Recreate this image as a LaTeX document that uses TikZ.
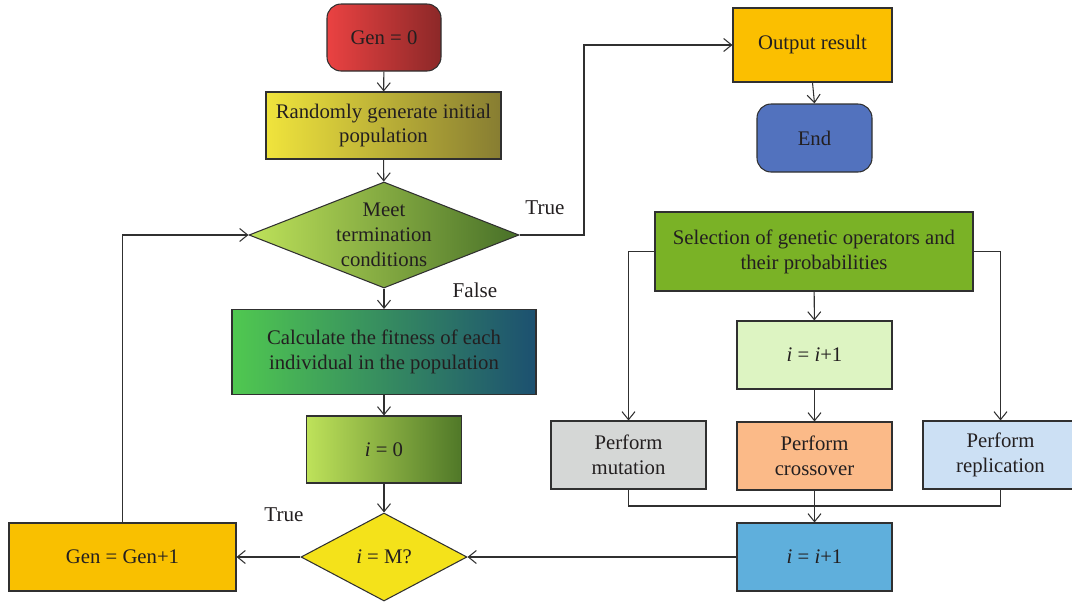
\documentclass[tikz,border=0pt]{standalone}
\usepackage{fontspec}
\setmainfont{Liberation Serif}
\usetikzlibrary{
  arrows.meta, % For arrow tips
  shapes.geometric % For the diamonds
}

\definecolor{txtgray}{HTML}{231F20}
\definecolor{linegray}{HTML}{303030}

\begin{document}
\begin{tikzpicture}[
      line width=0.6pt, % Default line thickness
      >={Straight Barb[length=1.6mm,width=2.6mm]}, % Default arrow tip
      every node/.style={font=\fontsize{11.8}{14.2}\selectfont, text=txtgray},
      block/.style={draw=linegray, rectangle, align=center, inner sep=2pt}, % Process boxes
      rblock/.style={block, rounded corners=8pt}, % Start / end boxes
      decision/.style={draw=linegray, diamond, align=center, inner sep=0pt, aspect=2.5}, % Tests
      flow/.style={->, draw=linegray}, % Connectors
      label/.style={font=\fontsize{12}{14}\selectfont},
    ]

    \useasboundingbox (0,0) rectangle (21.44,-12.12);

    % Linke Spalte: Hauptschleife
    \node[rblock, minimum width=2.28cm, minimum height=1.34cm,
      left color={rgb,255:red,234;green,66;blue,66}, middle color={rgb,255:red,228;green,60;blue,60},
      right color={rgb,255:red,140;green,40;blue,40}] (gen0) at (7.68,-0.75) {Gen = 0};
    \node[block, minimum width=4.7cm, minimum height=1.34cm,
      left color={rgb,255:red,240;green,228;blue,60}, middle color={rgb,255:red,238;green,226;blue,0},
      right color={rgb,255:red,135;green,125;blue,50}] (rand) at (7.67,-2.51) {Randomly generate initial\\population};
    \node[decision, minimum width=5.4cm, minimum height=2.12cm,
      left color={rgb,255:red,190;green,226;blue,90}, middle color={rgb,255:red,126;green,186;blue,30},
      right color={rgb,255:red,72;green,112;blue,40}] (meet) at (7.68,-4.70) {Meet\\termination\\conditions};
    \node[block, minimum width=6.08cm, minimum height=1.7cm,
      left color={rgb,255:red,80;green,200;blue,80}, middle color={rgb,255:red,64;green,192;blue,112},
      right color={rgb,255:red,28;green,80;blue,112}] (calc) at (7.68,-7.04) {Calculate the fitness of each\\individual in the population};
    \node[block, minimum width=3.1cm, minimum height=1.34cm,
      left color={rgb,255:red,190;green,226;blue,90}, middle color={rgb,255:red,130;green,190;blue,30},
      right color={rgb,255:red,80;green,120;blue,40}] (izero) at (7.68,-8.99) {\textit{i} = 0};
    \node[decision, minimum width=3.32cm, minimum height=1.76cm,
      fill={rgb,255:red,244;green,226;blue,26}] (itest) at (7.68,-11.14) {\textit{i} = M?};
    \node[block, minimum width=4.54cm, minimum height=1.36cm,
      fill={rgb,255:red,249;green,192;blue,0}] (genup) at (2.45,-11.14) {Gen = Gen+1};

    % Rechte Spalte: Ausgabe
    \node[block, minimum width=3.18cm, minimum height=1.48cm,
      fill={rgb,255:red,251;green,191;blue,0}] (out) at (16.25,-0.90) {Output result};
    \node[rblock, minimum width=2.3cm, minimum height=1.36cm,
      fill={rgb,255:red,82;green,114;blue,190}] (stop) at (16.29,-2.76) {End};

    % Rechte Spalte: genetische Operatoren
    \node[block, minimum width=6.36cm, minimum height=1.58cm,
      fill={rgb,255:red,122;green,178;blue,38}] (sel) at (16.28,-5.03) {Selection of genetic operators and\\their probabilities};
    \node[block, minimum width=3.1cm, minimum height=1.36cm,
      fill={rgb,255:red,221;green,244;blue,194}] (inc) at (16.29,-7.10) {\textit{i} = \textit{i}+1};
    \node[block, minimum width=3.1cm, minimum height=1.36cm,
      fill={rgb,255:red,213;green,215;blue,214}] (mut) at (12.57,-9.10) {Perform\\mutation};
    \node[block, minimum width=3.1cm, minimum height=1.36cm,
      fill={rgb,255:red,251;green,186;blue,136}] (cross) at (16.29,-9.12) {Perform\\crossover};
    \node[block, minimum width=3.1cm, minimum height=1.36cm,
      fill={rgb,255:red,204;green,224;blue,244}] (repl) at (20.01,-9.10) {Perform\\replication};
    \node[block, minimum width=3.1cm, minimum height=1.36cm,
      fill={rgb,255:red,95;green,175;blue,220}] (incb) at (16.29,-11.14) {\textit{i} = \textit{i}+1};

    % Verbindungen links
    \draw[flow] (gen0) -- (rand);
    \draw[flow] (rand) -- (meet);
    \draw[flow] (meet) -- (calc);
    \draw[flow] (calc) -- (izero);
    \draw[flow] (izero) -- (itest);
    \draw[flow] (itest) -- (genup);
    \draw[flow] (genup.north) |- (meet.west);

    % True-Zweig zur Ausgabe
    \coordinate (bend) at (11.68,-4.70);
    \draw[flow] (meet.east) -- (bend) |- (out.west);
    \draw[flow] (out.south) -- (stop.north);

    % Operatoren
    \draw[flow] (sel.west) -| (mut.north);
    \draw[flow] (sel.east) -| (repl.north);
    \draw[flow] (sel) -- (inc);
    \draw[flow] (inc) -- (cross);
    \coordinate (join) at (16.29,-10.12);
    \draw[draw=linegray] (mut.south) |- (join) -| (repl.south);
    \draw[flow] (cross) -- (incb);
    \draw[flow] (incb.west) -- (itest.east);

    % Beschriftungen
    \node[label] (ltrue) at (10.9,-4.16) {True};
    \node[label] (lfalse) at (9.5,-5.8) {False};
    \node[label] (ltrue2) at (5.68,-10.3) {True};

  \end{tikzpicture}
\end{document}
